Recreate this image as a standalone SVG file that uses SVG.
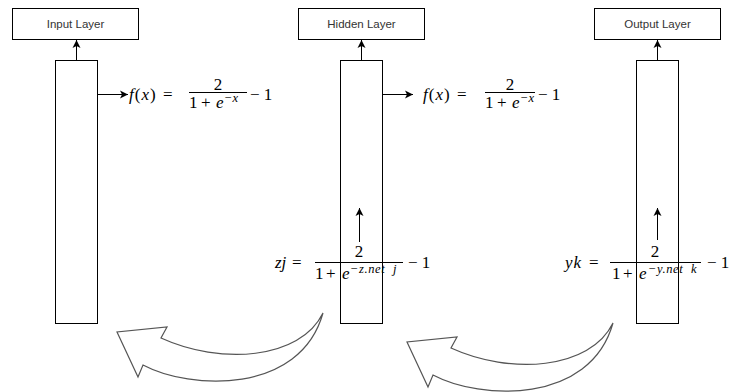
<svg xmlns="http://www.w3.org/2000/svg" width="732" height="392" viewBox="0 0 732 392">
<defs>
<style>
.box{fill:#fff;stroke:#000;stroke-width:1}
.lbl{font-family:"Liberation Sans",Arial,sans-serif;font-size:11.5px;fill:#333;text-anchor:middle}
.m{font-family:"Liberation Serif","DejaVu Serif","Times New Roman",serif;font-size:17px;fill:#000}
.i{font-style:italic}
.sup{font-family:"Liberation Serif","DejaVu Serif","Times New Roman",serif;font-size:12.5px;font-style:italic;fill:#000}
.mid{text-anchor:middle}
.bar{stroke:#000;stroke-width:1}
.ln{stroke:#000;stroke-width:1;fill:none}
.curve{fill:#fff;stroke:#555;stroke-width:1.2;stroke-linejoin:miter}
</style>
<marker id="ah" markerWidth="10" markerHeight="10" refX="8" refY="4.5" orient="auto" markerUnits="userSpaceOnUse">
<path d="M0,0.5 L8,4.5 L0,8.5 L2,4.5 Z" fill="#000"/>
</marker>
</defs>
<rect width="732" height="392" fill="#fff"/>

<g id="input-layer-label"><rect class="box" x="12.5" y="8.5" width="126" height="31"/><text class="lbl" x="75.5" y="28">Input Layer</text></g>
<g id="hidden-layer-label"><rect class="box" x="298.5" y="8.5" width="126" height="31"/><text class="lbl" x="361.5" y="28">Hidden Layer</text></g>
<g id="output-layer-label"><rect class="box" x="594.5" y="8.5" width="126" height="31"/><text class="lbl" x="657.5" y="28">Output Layer</text></g>

<g id="input-column"><rect class="box" x="55.5" y="60.5" width="42" height="263"/></g>
<g id="hidden-column"><rect class="box" x="340.5" y="60.5" width="42" height="263"/></g>
<g id="output-column"><rect class="box" x="636.5" y="60.5" width="42" height="263"/></g>

<g id="connectors">
<line class="ln" x1="76.5" y1="60" x2="76.5" y2="40" marker-end="url(#ah)"/>
<line class="ln" x1="361.5" y1="60" x2="361.5" y2="40" marker-end="url(#ah)"/>
<line class="ln" x1="657.5" y1="60" x2="657.5" y2="40" marker-end="url(#ah)"/>
<line class="ln" x1="97" y1="94.5" x2="128" y2="94.5" marker-end="url(#ah)"/>
<line class="ln" x1="382" y1="94.5" x2="413" y2="94.5" marker-end="url(#ah)"/>
<line class="ln" x1="359.5" y1="242" x2="359.5" y2="208" marker-end="url(#ah)"/>
<line class="ln" x1="657.5" y1="240" x2="657.5" y2="208" marker-end="url(#ah)"/>
<path class="curve" d="M323,313 C300,360 220,365 161,338 L167,327 L117,332 L138,377 L143,365 C190,390 300,395 323,313 Z"/>
<path class="curve" transform="translate(290,10)" d="M323,313 C300,360 220,365 161,338 L167,327 L117,332 L138,377 L143,365 C190,390 300,395 323,313 Z"/>
</g>

<g id="formula-input">
<text class="m" x="129" y="100" letter-spacing="1"><tspan class="i">f</tspan>(<tspan class="i">x</tspan>)</text>
<text class="m" x="163" y="100">=</text>
<text class="m mid" x="218" y="90">2</text>
<line class="bar" x1="189" y1="92.5" x2="247" y2="92.5"/>
<text class="m" x="189" y="108">1</text>
<text class="m" x="201" y="108">+</text>
<text class="m i" x="216" y="108">e</text>
<text class="sup" x="224" y="102">−x</text>
<text class="m" x="250" y="100">− 1</text>
</g>

<g id="formula-hidden">
<text class="m" x="423" y="100" letter-spacing="1"><tspan class="i">f</tspan>(<tspan class="i">x</tspan>)</text>
<text class="m" x="457" y="100">=</text>
<text class="m mid" x="510" y="90">2</text>
<line class="bar" x1="485" y1="92.5" x2="535" y2="92.5"/>
<text class="m" x="485" y="108">1</text>
<text class="m" x="497" y="108">+</text>
<text class="m i" x="512" y="108">e</text>
<text class="sup" x="520" y="102">−x</text>
<text class="m" x="538" y="100">− 1</text>
</g>

<g id="formula-zj">
<text class="m i" x="275" y="268">zj</text>
<text class="m" x="292" y="268">=</text>
<text class="m mid" x="359" y="257">2</text>
<line class="bar" x1="315" y1="262.5" x2="403" y2="262.5"/>
<text class="m" x="315" y="279">1</text>
<text class="m" x="326" y="279">+</text>
<text class="m i" x="342" y="279">e</text>
<text class="sup" x="350" y="273" letter-spacing="0.6">−z.net</text>
<text class="sup" x="393" y="273">j</text>
<text class="m" x="408" y="268">− 1</text>
</g>

<g id="formula-yk">
<text class="m i" x="565" y="268" letter-spacing="1">yk</text>
<text class="m" x="589" y="268">=</text>
<text class="m mid" x="655" y="257">2</text>
<line class="bar" x1="610" y1="262.5" x2="701" y2="262.5"/>
<text class="m" x="612" y="279">1</text>
<text class="m" x="623" y="279">+</text>
<text class="m i" x="639" y="279">e</text>
<text class="sup" x="648" y="273" letter-spacing="0.6">−y.net</text>
<text class="sup" x="691" y="273">k</text>
<text class="m" x="707" y="268">− 1</text>
</g>
</svg>
